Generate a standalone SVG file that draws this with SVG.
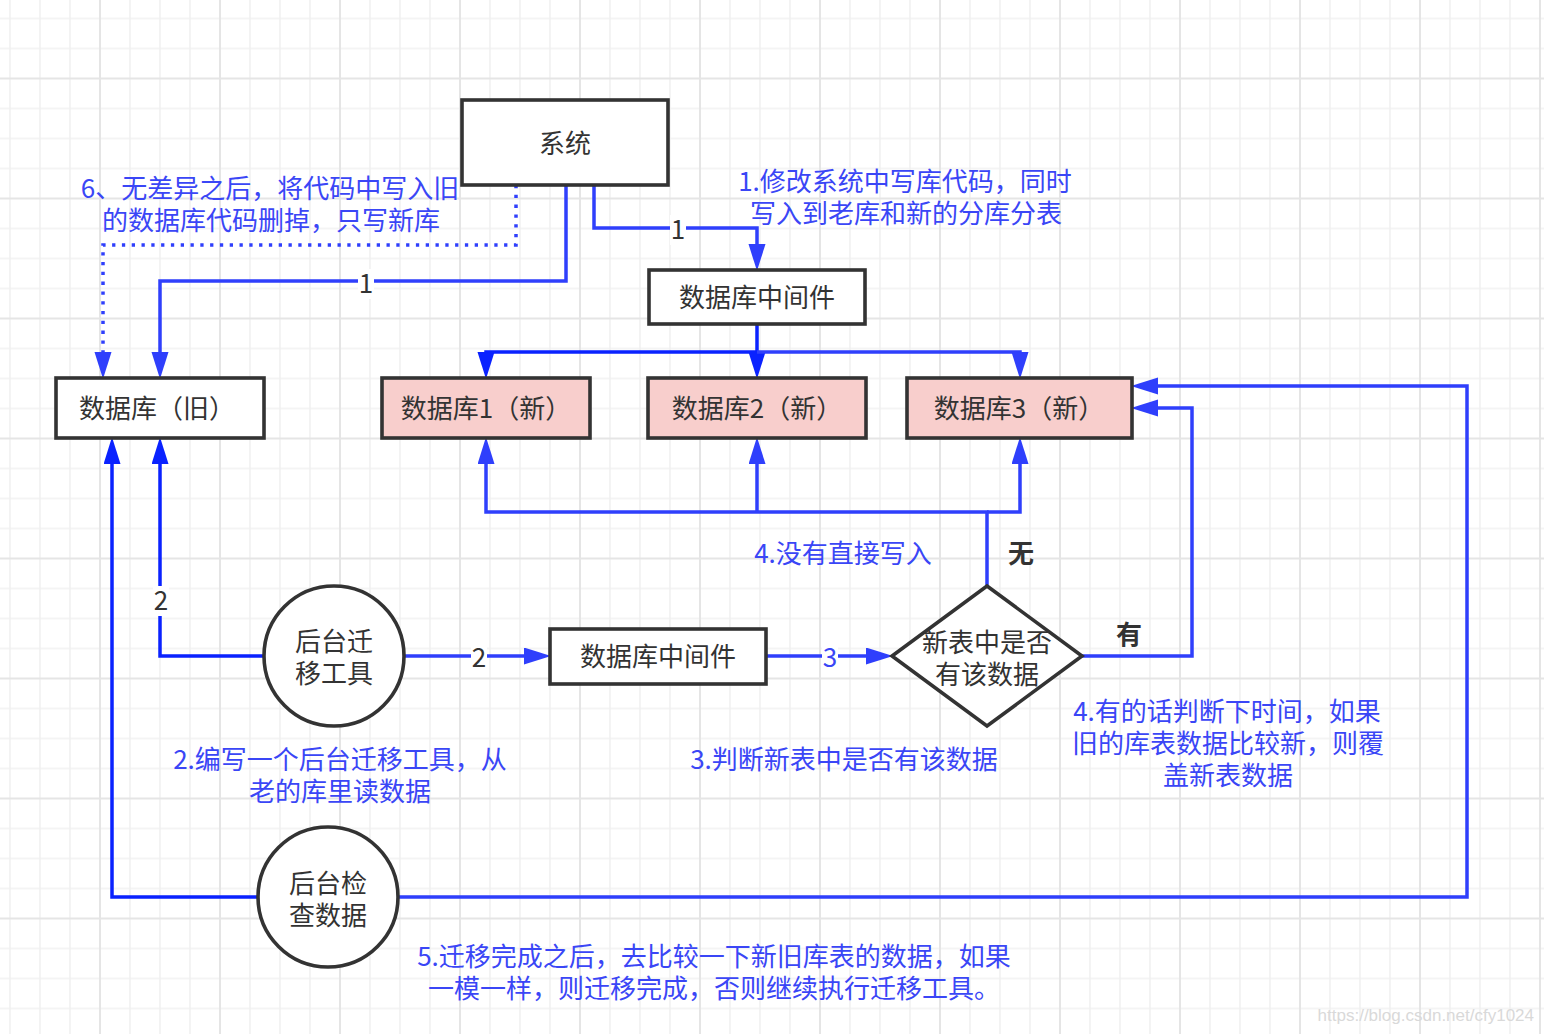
<svg xmlns="http://www.w3.org/2000/svg" width="1544" height="1034" viewBox="0 0 1544 1034">
<style>
text{font-family:"Noto Sans CJK SC","Liberation Sans",sans-serif;font-size:26px;text-anchor:middle}
.node{fill:#fff;stroke:#333;stroke-width:3.6}
.pink{fill:#f8cecc}
.nt{fill:#333}
.ann{fill:#3a46f6}
.lt{fill:none;stroke:#2f3ffc;stroke-width:3.5}
.dk{fill:none;stroke:#0a22ff;stroke-width:3.5}
.dot{stroke-dasharray:3.3 6.5}
.lbg{fill:#fff}
.lbl{fill:#333}
.bold{font-weight:bold;fill:#333}
</style>
<defs>
<pattern id="grid" x="85" y="63.5" width="120" height="120" patternUnits="userSpaceOnUse">
<path d="M45 0V120M75 0V120M105 0V120M0 45H120M0 75H120M0 105H120" stroke="#f1f1f1" stroke-width="1.6" fill="none"/>
<path d="M15 0V120M0 15H120" stroke="#e5e5e5" stroke-width="2" fill="none"/>
</pattern>
<marker id="al" markerUnits="userSpaceOnUse" markerWidth="30" markerHeight="20" refX="16" refY="8.5" orient="auto"><path d="M0,0L27,8.5L0,17z" fill="#2f3ffc"/></marker>
<marker id="ad" markerUnits="userSpaceOnUse" markerWidth="30" markerHeight="20" refX="16" refY="8.5" orient="auto"><path d="M0,0L27,8.5L0,17z" fill="#0a22ff"/></marker>
</defs>
<rect width="1544" height="1034" fill="#fff"/>
<rect width="1544" height="1034" fill="url(#grid)"/>

<g id="connectors">
<path class="lt" d="M594,185V228H757V260" marker-end="url(#al)"/>
<path class="lt" d="M566,185V281H160V368" marker-end="url(#al)"/>
<path class="lt dot" d="M516,185V245H103V368" marker-end="url(#al)"/>
<path class="dk" d="M757,352H486V368" marker-end="url(#ad)"/>
<path class="dk" d="M757,324V368" marker-end="url(#ad)"/>
<path class="lt" d="M757,352H1020V368" marker-end="url(#al)"/>
<path class="lt" d="M987,586V512H486V448" marker-end="url(#al)"/>
<path class="lt" d="M757,512V448" marker-end="url(#al)"/>
<path class="lt" d="M987,512H1020V448" marker-end="url(#al)"/>
<path class="lt" d="M1082,656H1192V408H1142" marker-end="url(#al)"/>
<path class="lt" d="M398,897H1467V386H1142" marker-end="url(#al)"/>
<path class="dk" d="M258,897H112V448" marker-end="url(#ad)"/>
<path class="dk" d="M264,656H160V448" marker-end="url(#ad)"/>
<path class="lt" d="M404,656H540" marker-end="url(#al)"/>
<path class="lt" d="M766,656H882" marker-end="url(#al)"/>
<rect class="lbg" x="670" y="215" width="16" height="30"/>
<text class="lbl" x="678" y="239">1</text>
<rect class="lbg" x="358" y="269" width="16" height="30"/>
<text class="lbl" x="366" y="293">1</text>
<rect class="lbg" x="153" y="586" width="16" height="30"/>
<text class="lbl" x="161" y="610">2</text>
<rect class="lbg" x="471" y="643" width="16" height="30"/>
<text class="lbl" x="479" y="667">2</text>
<rect class="lbg" x="822" y="643" width="16" height="30"/>
<text class="ann" x="830" y="667">3</text>
<text class="bold" x="1021" y="562.5">无</text>
<text class="bold" x="1129" y="643.5">有</text>
</g>

<g id="system">
<rect class="node" x="462" y="100" width="206" height="85"/>
<text class="nt" x="565" y="152.5">系统</text>
</g>
<g id="middleware-top">
<rect class="node" x="649" y="270" width="216" height="54"/>
<text class="nt" x="757" y="306.5">数据库中间件</text>
</g>
<g id="db-old">
<rect class="node" x="56" y="378" width="208" height="60"/>
<text class="nt" x="157" y="417.5">数据库（旧）</text>
</g>
<g id="db1">
<rect class="node pink" x="382" y="378" width="208" height="60"/>
<text class="nt" x="486" y="417.5">数据库1（新）</text>
</g>
<g id="db2">
<rect class="node pink" x="648" y="378" width="218" height="60"/>
<text class="nt" x="757" y="417.5">数据库2（新）</text>
</g>
<g id="db3">
<rect class="node pink" x="907" y="378" width="225" height="60"/>
<text class="nt" x="1019" y="417.5">数据库3（新）</text>
</g>
<g id="migrate-tool">
<circle class="node" cx="334" cy="656" r="70"/>
<text class="nt"><tspan x="334" y="650.5">后台迁</tspan><tspan x="334" y="682.5">移工具</tspan></text>
</g>
<g id="middleware-bottom">
<rect class="node" x="550" y="629" width="216" height="55"/>
<text class="nt" x="658" y="665.5">数据库中间件</text>
</g>
<g id="decision">
<polygon class="node" points="987,586 1082,656 987,726 892,656"/>
<text class="nt"><tspan x="987" y="651.5">新表中是否</tspan><tspan x="987" y="683.5">有该数据</tspan></text>
</g>
<g id="check-tool">
<circle class="node" cx="328" cy="897" r="70"/>
<text class="nt"><tspan x="328" y="892.5">后台检</tspan><tspan x="328" y="924.5">查数据</tspan></text>
</g>

<g id="annotations">
<text class="ann"><tspan x="270" y="197.5">6、无差异之后，将代码中写入旧</tspan><tspan x="271" y="229.5">的数据库代码删掉，只写新库</tspan></text>
<text class="ann"><tspan x="905" y="190.5">1.修改系统中写库代码，同时</tspan><tspan x="906" y="222.5">写入到老库和新的分库分表</tspan></text>
<text class="ann" x="843" y="562.5">4.没有直接写入</text>
<text class="ann"><tspan x="340" y="768.5">2.编写一个后台迁移工具，从</tspan><tspan x="340" y="800.5">老的库里读数据</tspan></text>
<text class="ann" x="844" y="768.5">3.判断新表中是否有该数据</text>
<text class="ann"><tspan x="1227" y="720.5">4.有的话判断下时间，如果</tspan><tspan x="1228" y="752.5">旧的库表数据比较新，则覆</tspan><tspan x="1228" y="784.5">盖新表数据</tspan></text>
<text class="ann"><tspan x="714" y="965.5">5.迁移完成之后，去比较一下新旧库表的数据，如果</tspan><tspan x="714" y="997.5">一模一样，则迁移完成，否则继续执行迁移工具。</tspan></text>
</g>
<text x="1534" y="1021" style="font-family:'Liberation Sans',sans-serif;font-size:17px;text-anchor:end;fill:#d9d9d9">https://blog.csdn.net/cfy1024</text>
</svg>
